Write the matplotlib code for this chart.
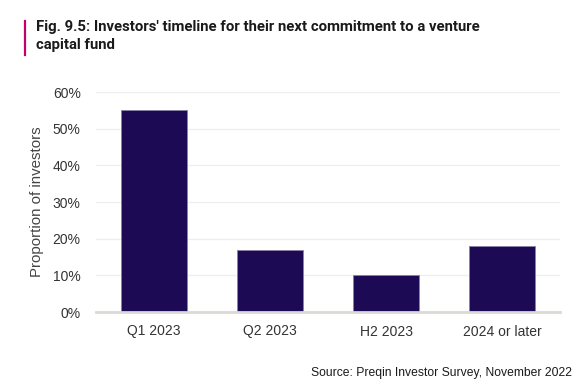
import matplotlib.pyplot as plt
from matplotlib.ticker import FuncFormatter

plt.rcParams['font.family'] = ['Liberation Sans', 'DejaVu Sans']

# data
periods = ['Q1 2023', 'Q2 2023', 'H2 2023', '2024 or later']
share = [55, 17, 10, 18]
y_ticks = [0, 10, 20, 30, 40, 50, 60]

fig = plt.figure(figsize=(5.8, 3.88), dpi=100)
ax = fig.add_axes([96 / 580, 76 / 388, 464 / 580, 220 / 388])

ax.bar(range(len(periods)), share, width=0.57, color='#1c0a55',
       edgecolor='#8a80a8', linewidth=0.6, zorder=3)

ax.set_xlim(-0.5, len(periods) - 0.5)
ax.set_ylim(0, 60)
ax.set_yticks(y_ticks)
ax.yaxis.set_major_formatter(FuncFormatter(lambda v, p: f'{v:.0f}%'))
ax.set_xticks(range(len(periods)))
ax.set_xticklabels(periods)
ax.tick_params(axis='both', length=0, labelsize=10, colors='#333333')
ax.tick_params(axis='x', pad=9)
ax.tick_params(axis='y', pad=11)
ax.grid(axis='y', color='#eeeeee', linewidth=0.9, zorder=0)

for s in ['top', 'right', 'left']:
    ax.spines[s].set_visible(False)
ax.spines['bottom'].set_color('#dcd8d4')
ax.spines['bottom'].set_linewidth(2)
ax.spines['bottom'].set_zorder(4)

ax.set_ylabel('Proportion of investors', fontsize=10.8, color='#444444', labelpad=6)

# title with magenta accent bar
fig.add_artist(plt.Line2D([25 / 580, 25 / 580], [1 - 21 / 388, 1 - 55 / 388],
                          color='#c4006a', linewidth=1.6))
fig.text(36 / 580, 1 - 20 / 388,
         "Fig. 9.5: Investors' timeline for their next commitment to a venture\ncapital fund",
         fontsize=10.7, fontweight='bold', color='#1a1a1a', va='top', ha='left',
         linespacing=1.4, family=['Roboto', 'DejaVu Sans'])

fig.text(572 / 580, 1 - 373 / 388, 'Source: Preqin Investor Survey, November 2022',
         fontsize=8.7, color='#1a1a1a', ha='right', va='center')

fig.savefig('out.png', dpi=100)
